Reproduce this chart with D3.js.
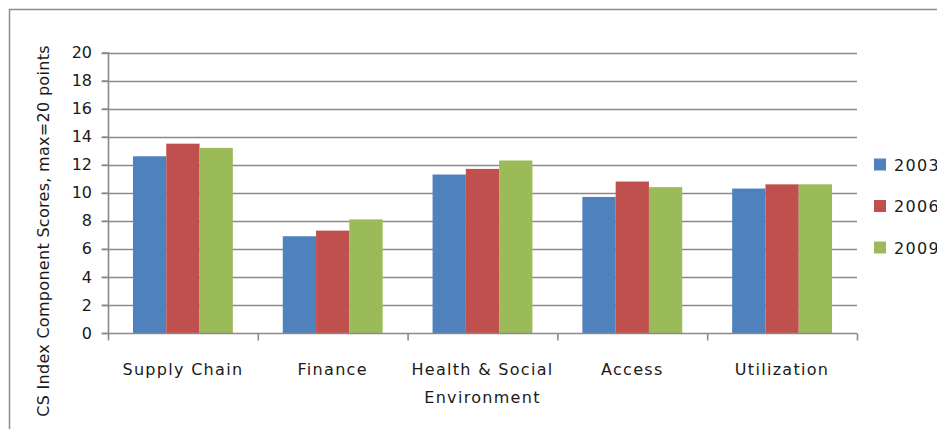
<!DOCTYPE html>
<html>
<head>
<meta charset="utf-8">
<script src="https://cdn.jsdelivr.net/npm/d3@7/dist/d3.min.js"></script>
<style>
  html, body { margin: 0; padding: 0; background: #fff; }
  svg { display: block; }
  text { font-family: "DejaVu Sans", Verdana, sans-serif; fill: #1a1a1a; }
</style>
</head>
<body>
<svg id="chart" width="937" height="429"></svg>
<script>
const categories = ["Supply Chain", "Finance", "Health & Social\nEnvironment", "Access", "Utilization"];
const seriesNames = ["2003", "2006", "2009"];
const values2003 = [12.6, 6.9, 11.3, 9.7, 10.3];
const values2006 = [13.5, 7.3, 11.7, 10.8, 10.6];
const values2009 = [13.2, 8.1, 12.3, 10.4, 10.6];
const yTicks = [0, 2, 4, 6, 8, 10, 12, 14, 16, 18, 20];
const colors = ["#4F81BD", "#C0504D", "#9BBB59"];

const seriesValues = [values2003, values2006, values2009];

const svg = d3.select("#chart");
const W = 937, H = 429;
const plot = { left: 108, right: 857, top: 52.5, bottom: 333 };
const gridColor = "#8a8a8a";

// outer chart border (cropped on right/bottom in reference)
svg.append("rect")
  .attr("x", 9.5).attr("y", 9.5)
  .attr("width", W + 20).attr("height", H + 20)
  .attr("fill", "none").attr("stroke", "#8c8c8c").attr("stroke-width", 1.5);

const x0 = d3.scaleBand().domain(categories).range([plot.left, plot.right]).paddingInner(0).paddingOuter(0);
const groupW = x0.bandwidth() * 3 / 4.5;
const x1 = d3.scaleBand().domain(seriesNames).range([0, groupW]).padding(0);
const y = d3.scaleLinear().domain([0, 20]).range([plot.bottom, plot.top]);

// gridlines
svg.append("g")
  .selectAll("line").data(yTicks.filter(d => d > 0)).join("line")
  .attr("x1", plot.left - 6.5).attr("x2", plot.right)
  .attr("y1", d => Math.round(y(d)) + 0.5).attr("y2", d => Math.round(y(d)) + 0.5)
  .attr("stroke", gridColor).attr("stroke-width", 1.6);

// bars
const groups = svg.append("g").selectAll("g").data(categories).join("g")
  .attr("transform", c => `translate(${x0(c) + (x0.bandwidth() - groupW) / 2},0)`);
groups.selectAll("rect")
  .data((c, i) => seriesNames.map((s, j) => ({ s, j, v: seriesValues[j][i] })))
  .join("rect")
  .attr("x", d => x1(d.s))
  .attr("width", x1.bandwidth())
  .attr("y", d => y(d.v))
  .attr("height", d => y(0) - y(d.v))
  .attr("fill", d => colors[d.j]);

// y axis
const yAxis = d3.axisLeft(y).tickValues(yTicks).tickSize(6.5).tickPadding(10).tickFormat(d3.format("d"));
const yg = svg.append("g").attr("transform", `translate(${plot.left + 0.5},0)`).call(yAxis);
yg.select(".domain").attr("stroke", gridColor).attr("stroke-width", 1.6).attr("d", `M0,${plot.top}V${plot.bottom}`);
yg.selectAll(".tick line").attr("stroke", gridColor).attr("stroke-width", 1.6);
yg.selectAll(".tick text").attr("font-size", 16).attr("font-family", '"DejaVu Sans", sans-serif').attr("fill", "#1a1a1a");

// x axis
const xg = svg.append("g").attr("transform", `translate(0,${Math.round(plot.bottom) + 0.5})`);
xg.append("line").attr("x1", plot.left - 6.5).attr("x2", plot.right)
  .attr("stroke", gridColor).attr("stroke-width", 1.6);
const boundaries = categories.map(c => x0(c)).concat([x0(categories[categories.length - 1]) + x0.bandwidth()]);
xg.selectAll("line.tk").data(boundaries).join("line").attr("class", "tk")
  .attr("x1", d => d + 0.5).attr("x2", d => d + 0.5).attr("y1", 0).attr("y2", 7)
  .attr("stroke", gridColor).attr("stroke-width", 1.6);
const labels = xg.selectAll("text.cat").data(categories).join("text").attr("class", "cat")
  .attr("x", c => x0(c) + x0.bandwidth() / 2)
  .attr("y", 41)
  .attr("text-anchor", "middle")
  .attr("font-size", 16)
  .attr("letter-spacing", 1.3);
labels.each(function (c) {
  const parts = c.split("\n");
  d3.select(this).selectAll("tspan").data(parts).join("tspan")
    .attr("x", x0(c) + x0.bandwidth() / 2)
    .attr("dy", (d, i) => i === 0 ? 0 : 28)
    .text(d => d);
});

// y axis title
svg.append("text")
  .attr("transform", "translate(49,231) rotate(-90)")
  .attr("text-anchor", "middle")
  .attr("font-size", 16)
  .attr("letter-spacing", 0.3)
  .text("CS Index Component Scores, max=20 points");

// legend
const lg = svg.append("g").selectAll("g").data(seriesNames).join("g")
  .attr("transform", (d, i) => `translate(874,${164.5 + i * 41.5})`);
lg.append("rect").attr("x", 0).attr("y", -6).attr("width", 12).attr("height", 12)
  .attr("fill", (d, i) => colors[i]);
lg.append("text").attr("x", 20).attr("y", 6).attr("font-size", 16).attr("letter-spacing", 1.3).text(d => d);
</script>
</body>
</html>
